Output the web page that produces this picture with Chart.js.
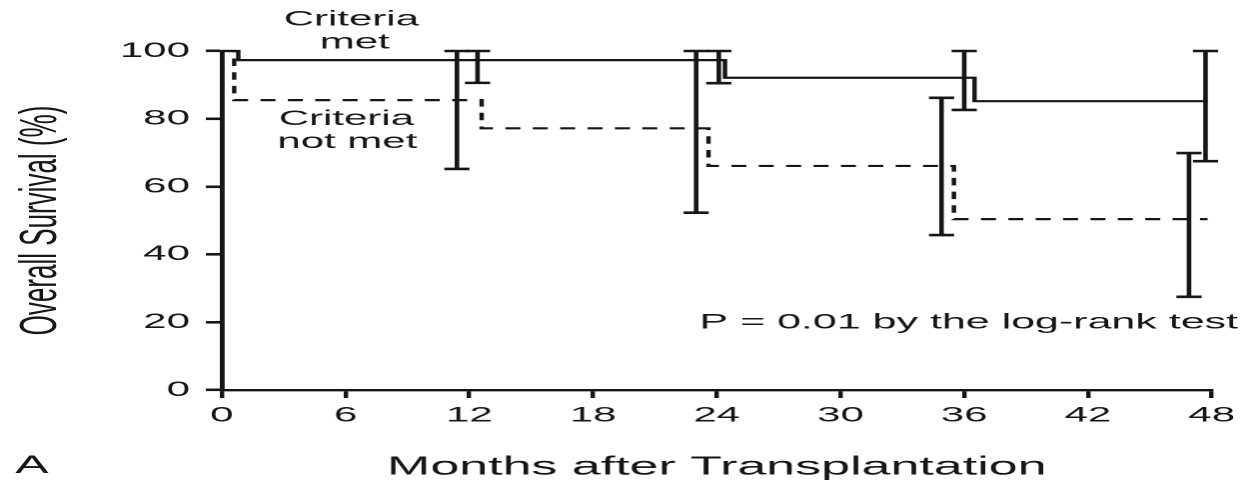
<!DOCTYPE html>
<html>
<head>
<meta charset="utf-8">
<script src="https://cdn.jsdelivr.net/npm/chart.js@4/dist/chart.umd.min.js"></script>
<style>
  html, body { margin: 0; padding: 0; background: #fff; overflow: hidden; }
  /* the source figure is stretched 2x horizontally; draw at half width and stretch */
  #wrap { width: 623px; height: 483px; transform: scaleX(1.9984); transform-origin: 0 0; }
  #chart { display: block; }
</style>
</head>
<body>
<div id="wrap"><canvas id="chart" width="623" height="483" style="width:623px;height:483px"></canvas></div>
<script>
// Kaplan-Meier steps (months, % surviving)
const monthsMet = [0, 0.8, 24.4, 36.5, 47.8];
const survivalMet = [100, 97.3, 92.1, 85.2, 85.2];
const monthsNotMet = [0, 0.6, 12.6, 23.6, 35.5, 47.8];
const survivalNotMet = [100, 85.5, 77.2, 66.1, 50.4, 50.4];

// confidence bars
const ciMonthsMet = [12.4, 24.1, 36.0, 47.7];
const ciLowMet = [90.6, 90.5, 82.6, 67.5];
const ciHighMet = [100, 100, 100, 100];
const ciMonthsNotMet = [11.4, 23.0, 34.9, 46.9];
const ciLowNotMet = [65.2, 52.3, 45.7, 27.5];
const ciHighNotMet = [100, 100, 86.2, 69.9];

const xTickLabels = ['0', '6', '12', '18', '24', '30', '36', '42', '48'];
const yTickLabels = ['0', '20', '40', '60', '80', '100'];

const FONT = "'Liberation Sans', Arial, Helvetica, sans-serif";
const INK = '#161616';

function toPoints(xs, ys) {
  return xs.map((x, i) => ({ x, y: ys[i] }));
}

const errorBars = {
  id: 'errorBars',
  afterDatasetsDraw(chart) {
    const { ctx, scales: { x, y } } = chart;
    const groups = [
      [ciMonthsMet, ciLowMet, ciHighMet],
      [ciMonthsNotMet, ciLowNotMet, ciHighNotMet],
    ];
    const half = 6.3;
    ctx.save();
    ctx.strokeStyle = INK;
    ctx.setLineDash([]);
    ctx.lineCap = 'butt';
    for (const [ms, lo, hi] of groups) {
      ms.forEach((m, i) => {
        const px = x.getPixelForValue(m);
        const y0 = y.getPixelForValue(lo[i]);
        const y1 = y.getPixelForValue(hi[i]);
        ctx.lineWidth = 2.3;
        ctx.beginPath();
        ctx.moveTo(px, y0);
        ctx.lineTo(px, y1);
        ctx.stroke();
        ctx.lineWidth = 2.6;
        ctx.beginPath();
        ctx.moveTo(px - half, y0);
        ctx.lineTo(px + half, y0);
        ctx.moveTo(px - half, y1);
        ctx.lineTo(px + half, y1);
        ctx.stroke();
      });
    }
    ctx.restore();
  },
};

const notes = {
  id: 'notes',
  afterDraw(chart) {
    const { ctx } = chart;
    const items = [
      ['Criteria', 175.8, 19.5, 21, 'center'],
      ['met', 177.5, 42.5, 21, 'center'],
      ['Criteria', 173.3, 119, 21, 'center'],
      ['not met', 173.8, 142, 21, 'center'],
      ['P = 0.01 by the log-rank test', 350, 322.5, 21.5, 'left'],
      ['A', 16, 466, 25, 'center'],
    ];
    ctx.save();
    ctx.fillStyle = INK;
    ctx.textBaseline = 'middle';
    for (const [text, tx, ty, size, align] of items) {
      ctx.font = `${size}px ${FONT}`;
      ctx.textAlign = align;
      ctx.fillText(text, tx, ty);
    }
    ctx.restore();
  },
};

new Chart(document.getElementById('chart'), {
  type: 'line',
  data: {
    datasets: [
      {
        label: 'Criteria met',
        data: toPoints(monthsMet, survivalMet),
        stepped: 'before',
        borderColor: INK,
        borderWidth: 2.2,
        pointRadius: 0,
        fill: false,
        clip: false,
      },
      {
        label: 'Criteria not met',
        data: toPoints(monthsNotMet, survivalNotMet),
        stepped: 'before',
        borderColor: INK,
        borderWidth: 2.2,
        borderDash: [7.5, 6.2],
        pointRadius: 0,
        fill: false,
        clip: false,
      },
    ],
  },
  options: {
    responsive: false,
    animation: false,
    devicePixelRatio: 2,
    layout: { padding: { top: 51, right: 13, left: 0, bottom: 0 } },
    plugins: { legend: { display: false }, tooltip: { enabled: false } },
    scales: {
      x: {
        type: 'linear',
        min: 0,
        max: 48,
        afterFit: (s) => { s.height = 93; },
        border: { display: true, color: INK, width: 2.4 },
        grid: { drawOnChartArea: false, drawTicks: true, tickLength: 8, color: INK, lineWidth: 2.2 },
        ticks: {
          stepSize: 6,
          autoSkip: false,
          maxRotation: 0,
          padding: 5,
          color: INK,
          font: { family: FONT, size: 21 },
          callback: (v, i) => xTickLabels[i],
        },
        title: {
          display: true,
          text: 'Months after Transplantation',
          color: INK,
          font: { family: FONT, size: 26 },
          padding: { top: 0, bottom: 0 },
        },
      },
      y: {
        type: 'linear',
        min: 0,
        max: 100,
        afterFit: (s) => { s.width = 111; },
        border: { display: true, color: INK, width: 2.4 },
        grid: { drawOnChartArea: false, drawTicks: true, tickLength: 8, color: INK, lineWidth: 2.6 },
        ticks: {
          stepSize: 20,
          padding: 8,
          color: INK,
          font: { family: FONT, size: 21 },
          callback: (v, i) => yTickLabels[i],
        },
        title: {
          display: true,
          text: 'Overall Survival (%)',
          color: INK,
          font: { family: FONT, size: 26 },
          padding: { top: 5, bottom: 0 },
        },
      },
    },
  },
  plugins: [errorBars, notes],
});
</script>
</body>
</html>
